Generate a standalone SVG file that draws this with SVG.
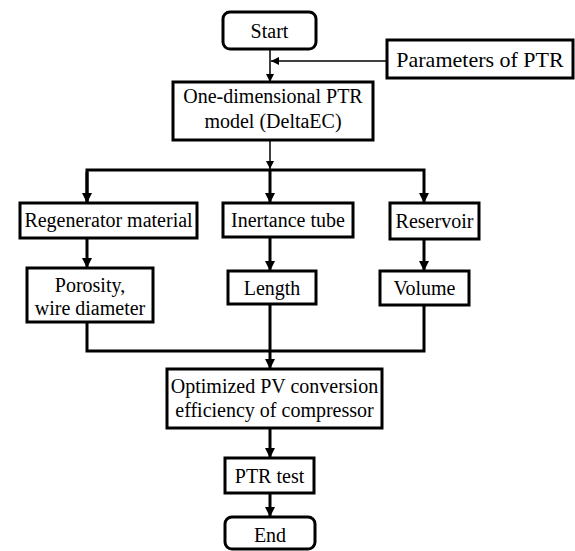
<svg xmlns="http://www.w3.org/2000/svg" width="575" height="551" viewBox="0 0 575 551">
<style>
.box{fill:#fff;stroke:#000;stroke-width:3}
.t{font-family:"Liberation Serif","Times New Roman",serif;font-size:20px;fill:#000;text-anchor:middle}
.thin{fill:none;stroke:#000;stroke-width:1.5}
.thick{fill:none;stroke:#000;stroke-width:3}
</style>
<defs>
<marker id="as" markerUnits="userSpaceOnUse" markerWidth="10" markerHeight="10" refX="8" refY="4" orient="auto"><path d="M0,0 L8,4 L0,8 z" fill="#000"/></marker>
<marker id="al" markerUnits="userSpaceOnUse" markerWidth="12" markerHeight="12" refX="10" refY="5" orient="auto"><path d="M0,0 L10,5 L0,10 z" fill="#000"/></marker>
</defs>
<rect width="575" height="551" fill="#fff"/>
<g id="connectors">
<line class="thin" x1="270" y1="49" x2="270" y2="82" marker-end="url(#as)"/>
<line class="thin" x1="387" y1="61" x2="271" y2="61" marker-end="url(#as)"/>
<line class="thin" x1="270" y1="140" x2="270" y2="169" marker-end="url(#as)"/>
<polyline class="thick" points="87,203 87,170 424,170 424,203" marker-end="url(#al)"/>
<line class="thick" x1="87" y1="172" x2="87" y2="203" marker-end="url(#al)"/>
<line class="thick" x1="270" y1="170" x2="270" y2="203" marker-end="url(#al)"/>
<line class="thick" x1="87" y1="238" x2="87" y2="268" marker-end="url(#al)"/>
<line class="thick" x1="270" y1="237" x2="270" y2="271" marker-end="url(#al)"/>
<line class="thick" x1="424" y1="239" x2="424" y2="271" marker-end="url(#al)"/>
<polyline class="thick" points="87,322 87,351 424,351 424,305"/>
<line class="thick" x1="270" y1="304" x2="270" y2="369" marker-end="url(#al)"/>
<line class="thick" x1="270" y1="428" x2="270" y2="458" marker-end="url(#al)"/>
<line class="thick" x1="270" y1="493" x2="270" y2="517" marker-end="url(#al)"/>
</g>
<g id="start"><rect class="box" x="223" y="12" width="93" height="37" rx="7"/><text class="t" x="269.5" y="38">Start</text></g>
<g id="params"><rect class="box" x="387" y="40" width="186" height="38"/><text class="t" x="480" y="67" style="font-size:22px">Parameters of PTR</text></g>
<g id="model"><rect class="box" x="173" y="82" width="200" height="58"/><text class="t" x="273" y="103">One-dimensional PTR</text><text class="t" x="273" y="128">model (DeltaEC)</text></g>
<g id="regen"><rect class="box" x="20" y="203" width="177" height="35"/><text class="t" x="108.5" y="227">Regenerator material</text></g>
<g id="inertance"><rect class="box" x="223" y="203" width="130" height="34"/><text class="t" x="288" y="227">Inertance tube</text></g>
<g id="reservoir"><rect class="box" x="390" y="203" width="89" height="36"/><text class="t" x="434.5" y="228">Reservoir</text></g>
<g id="porosity"><rect class="box" x="27" y="268" width="126" height="54"/><text class="t" x="90" y="292">Porosity,</text><text class="t" x="90" y="315">wire diameter</text></g>
<g id="length"><rect class="box" x="228" y="271" width="88" height="33"/><text class="t" x="272" y="295">Length</text></g>
<g id="volume"><rect class="box" x="380" y="271" width="89" height="34"/><text class="t" x="424.5" y="295">Volume</text></g>
<g id="optimized"><rect class="box" x="167" y="369" width="215" height="59"/><text class="t" x="274.5" y="393">Optimized PV conversion</text><text class="t" x="274.5" y="417">efficiency of compressor</text></g>
<g id="ptrtest"><rect class="box" x="225" y="458" width="89" height="35"/><text class="t" x="269.5" y="483">PTR test</text></g>
<g id="end"><rect class="box" x="225" y="517" width="90" height="32" rx="7"/><text class="t" x="270" y="542">End</text></g>
</svg>
